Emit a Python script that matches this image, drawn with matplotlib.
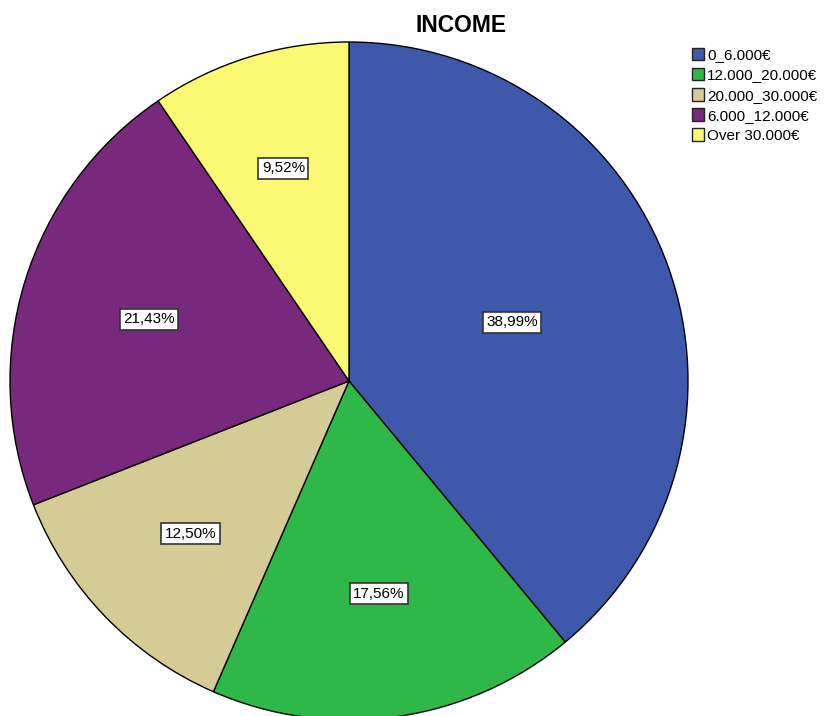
import matplotlib
matplotlib.use("Agg")
import matplotlib.pyplot as plt
import numpy as np
from matplotlib.patches import Patch

plt.rcParams["font.family"] = ["Liberation Sans", "DejaVu Sans"]

categories = ["0_6.000€", "12.000_20.000€", "20.000_30.000€", "6.000_12.000€", "Over 30.000€"]
shares = [38.99, 17.56, 12.50, 21.43, 9.52]
colors = ["#3E58AC", "#2EB848", "#D4CC94", "#78287D", "#FBF873"]

W, H = 833, 716
fig = plt.figure(figsize=(W / 100, H / 100), dpi=100)
cx, cy, r = 349, 381, 339
ax = fig.add_axes([(cx - r) / W, (H - cy - r) / H, 2 * r / W, 2 * r / H])

wedges, _ = ax.pie(shares, colors=colors, startangle=90, counterclock=False,
                   radius=1.0, wedgeprops=dict(edgecolor="black", linewidth=1.0))
ax.set_xlim(-1, 1)
ax.set_ylim(-1, 1)
ax.set_aspect("equal")
ax.axis("off")

# labels sit at the centroid of each sector
for w, val in zip(wedges, shares):
    mid = np.deg2rad((w.theta1 + w.theta2) / 2)
    half = np.deg2rad(w.theta2 - w.theta1) / 2
    d = 2 * np.sin(half) / (3 * half)
    ax.text(d * np.cos(mid), d * np.sin(mid), f"{val:.2f}%".replace(".", ","),
            ha="center", va="center", fontsize=11,
            bbox=dict(boxstyle="square,pad=0.22", facecolor="white",
                      edgecolor="#333333", linewidth=1.2))

fig.text(461 / W, 1 - 25 / H, "INCOME", ha="center", va="center",
         fontsize=16.5, fontweight="bold")

handles = [Patch(facecolor=c, edgecolor="#222222", linewidth=1.0) for c in colors]
fig.legend(handles, categories, loc="upper left", bbox_to_anchor=(681 / W, 1 - 37 / H),
           frameon=False, fontsize=11, handlelength=0.8, handleheight=0.9,
           handletextpad=0.2, labelspacing=0.36, borderpad=0.2)

fig.savefig("out.png", dpi=100)
